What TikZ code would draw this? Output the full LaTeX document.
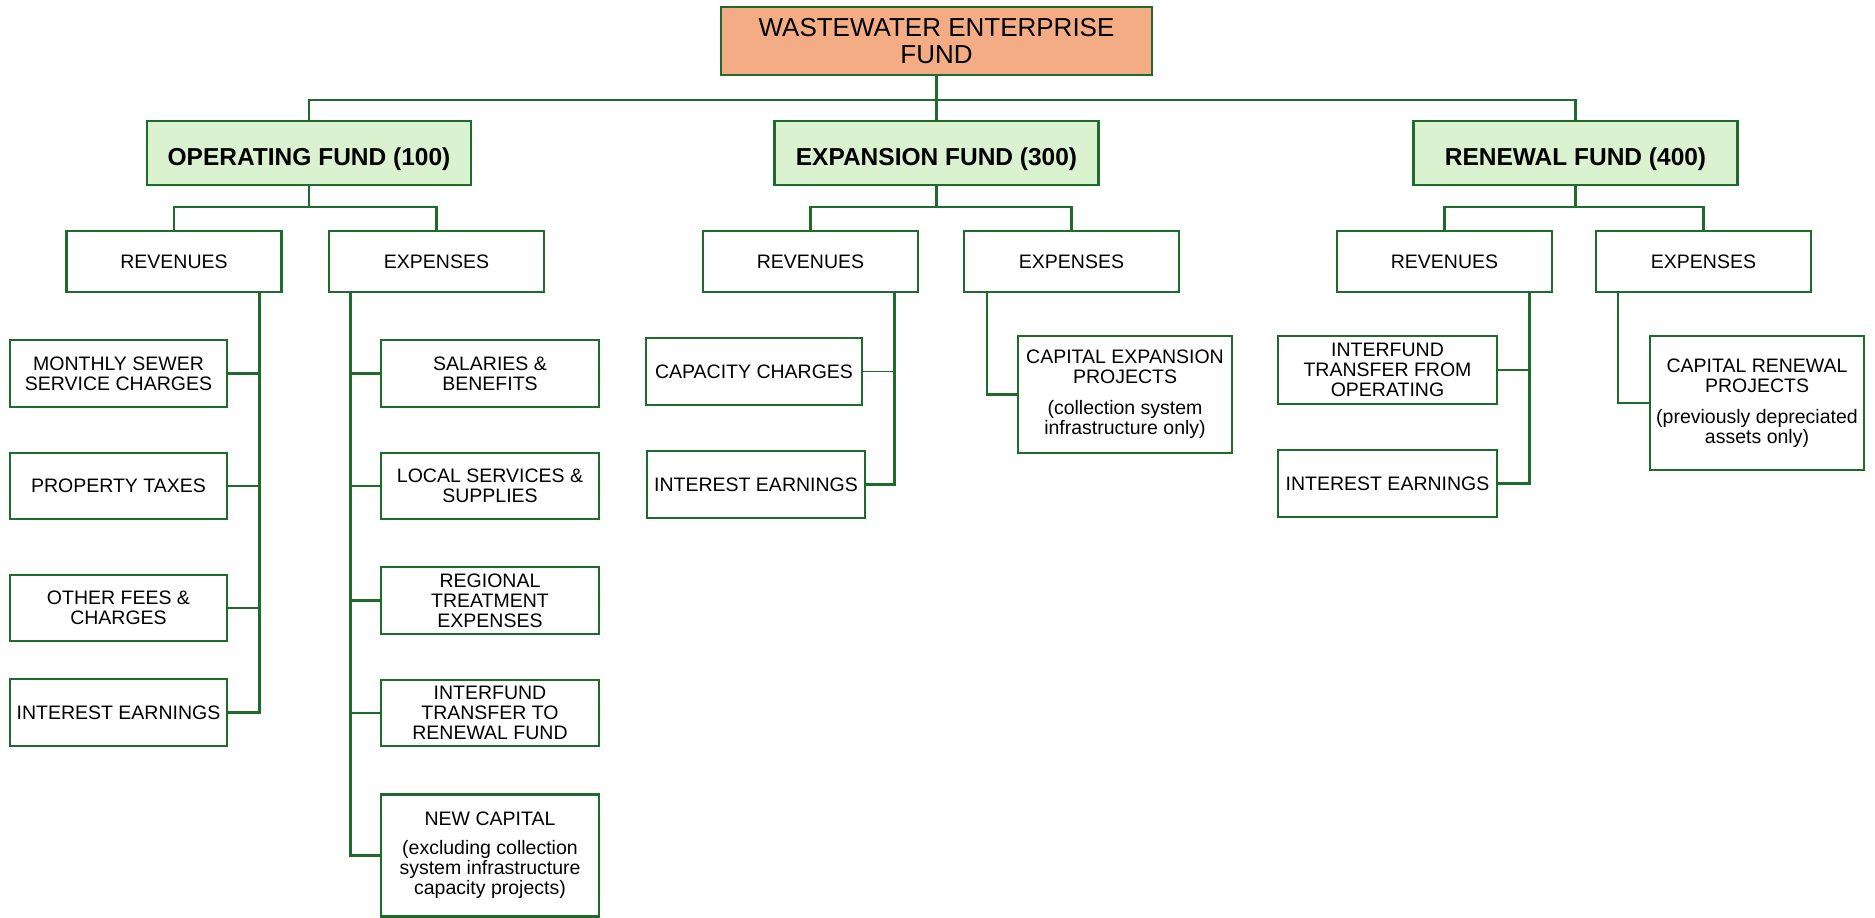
\documentclass[tikz,border=0pt]{standalone}
\usepackage{fontspec}
\setmainfont{Liberation Sans}
\usepackage{tikz}
\usepackage{xcolor}
\definecolor{linegreen}{HTML}{1F6B2B}
\definecolor{salmon}{HTML}{F4AC85}
\definecolor{paleleaf}{HTML}{DAF2D0}

\begin{document}
\begin{tikzpicture}[x=1pt,y=-1pt,
  box/.style={draw=linegreen, line width=2.6, rectangle, align=center, inner sep=1,
    fill=white, font=\fontsize{19.5}{20}\selectfont},
  titlebox/.style={box, fill=salmon, minimum width=431, minimum height=68,
    font=\fontsize{26}{27}\selectfont},
  fundbox/.style={box, fill=paleleaf, minimum width=324, minimum height=64,
    text height=24, text depth=0, font=\bfseries\fontsize{24.5}{26}\selectfont},
  subbox/.style={box, minimum width=215, minimum height=61},
  leafbox/.style={box, minimum width=217, minimum height=66},
  link/.style={draw=linegreen, line width=2.6},
  thinlink/.style={draw=linegreen, line width=1.4}]
\useasboundingbox (0,0) rectangle (1875,918);

% top of the tree
\node[titlebox] (top) at (936.5,41) {WASTEWATER ENTERPRISE\\FUND};
\node[fundbox] (op) at (309,153) {OPERATING FUND (100)};
\node[fundbox] (ex) at (936.5,153) {EXPANSION FUND (300)};
\node[fundbox] (re) at (1575.5,153) {RENEWAL FUND (400)};

\node[subbox] (oprev) at (174,261.5) {REVENUES};
\node[subbox] (opexp) at (436.5,261.5) {EXPENSES};
\node[subbox] (exrev) at (810.5,261.5) {REVENUES};
\node[subbox] (exexp) at (1071.5,261.5) {EXPENSES};
\node[subbox] (rerev) at (1444.5,261.5) {REVENUES};
\node[subbox] (reexp) at (1703.5,261.5) {EXPENSES};

% operating fund
\node[leafbox, minimum height=67] (msc) at (118.5,373.5) {MONTHLY SEWER\\SERVICE CHARGES};
\node[leafbox] (ptx) at (118.5,486) {PROPERTY TAXES};
\node[leafbox] (ofc) at (118.5,608) {OTHER FEES \&\\CHARGES};
\node[leafbox, minimum height=67] (oie) at (118.5,712.5) {INTEREST EARNINGS};

\node[leafbox, minimum width=218, minimum height=67] (sal) at (490,373.5) {SALARIES \&\\BENEFITS};
\node[leafbox, minimum width=218] (lss) at (490,486) {LOCAL SERVICES \&\\SUPPLIES};
\node[leafbox, minimum width=218, minimum height=67] (rte) at (490,600.5) {REGIONAL\\TREATMENT\\EXPENSES};
\node[leafbox, minimum width=218] (itr) at (490,713) {INTERFUND\\TRANSFER TO\\RENEWAL FUND};
\node[leafbox, minimum width=218, minimum height=122] (ncap) at (490,855.5)
  {NEW CAPITAL\\[9pt](excluding collection\\system infrastructure\\capacity projects)};

% expansion fund
\node[leafbox, minimum width=216, minimum height=67] (cap) at (754,371.5) {CAPACITY CHARGES};
\node[leafbox, minimum width=218, minimum height=67] (eie) at (756,484.5) {INTEREST EARNINGS};
\node[box, minimum width=214, minimum height=117] (cep) at (1125,394.5)
  {CAPITAL EXPANSION\\PROJECTS\\[11pt](collection system\\infrastructure only)};

% renewal fund
\node[leafbox, minimum width=219, minimum height=68] (itf) at (1387.5,370) {INTERFUND\\TRANSFER FROM\\OPERATING};
\node[leafbox, minimum width=219, minimum height=67] (rie) at (1387.5,483.5) {INTEREST EARNINGS};
\node[box, minimum width=214, minimum height=134] (crp) at (1757,403)
  {CAPITAL RENEWAL\\PROJECTS\\[11pt](previously depreciated\\assets only)};

% bus lines and trunks
\coordinate (topbus) at (0,100);
\coordinate (subbus) at (0,207);
\coordinate (optr) at (259.5,0);
\coordinate (oxtr) at (350.5,0);
\coordinate (extr) at (894.5,0);
\coordinate (exxtr) at (987,0);
\coordinate (retr) at (1529.5,0);
\coordinate (rextr) at (1618,0);

\draw[link] (top.south) -- (top.south |- topbus);
\draw[link] (op.north) |- (re.north |- topbus) -- (re.north);
\draw[link] (ex.north) -- (ex.north |- topbus);

\draw[link] (op.south) -- (op.south |- subbus);
\draw[link] (oprev.north) |- (opexp.north |- subbus) -- (opexp.north);
\draw[link] (ex.south) -- (ex.south |- subbus);
\draw[link] (exrev.north) |- (exexp.north |- subbus) -- (exexp.north);
\draw[link] (re.south) -- (re.south |- subbus);
\draw[link] (rerev.north) |- (reexp.north |- subbus) -- (reexp.north);

\draw[link] (oprev.south -| optr) |- (oie.east);
\foreach \n in {msc,ptx,ofc}
  \draw[link] (\n.east) -- (\n.east -| optr);
\draw[link] (opexp.south -| oxtr) |- (ncap.west);
\foreach \n in {sal,lss,rte,itr}
  \draw[link] (\n.west) -- (\n.west -| oxtr);

\draw[link] (exrev.south -| extr) |- (eie.east);
\draw[thinlink] (cap.east) -- (cap.east -| extr);
\draw[link] (exexp.south -| exxtr) |- (cep.west);

\draw[link] (rerev.south -| retr) |- (rie.east);
\draw[link] (itf.east) -- (itf.east -| retr);
\draw[link] (reexp.south -| rextr) |- (crp.west);
\end{tikzpicture}
\end{document}
